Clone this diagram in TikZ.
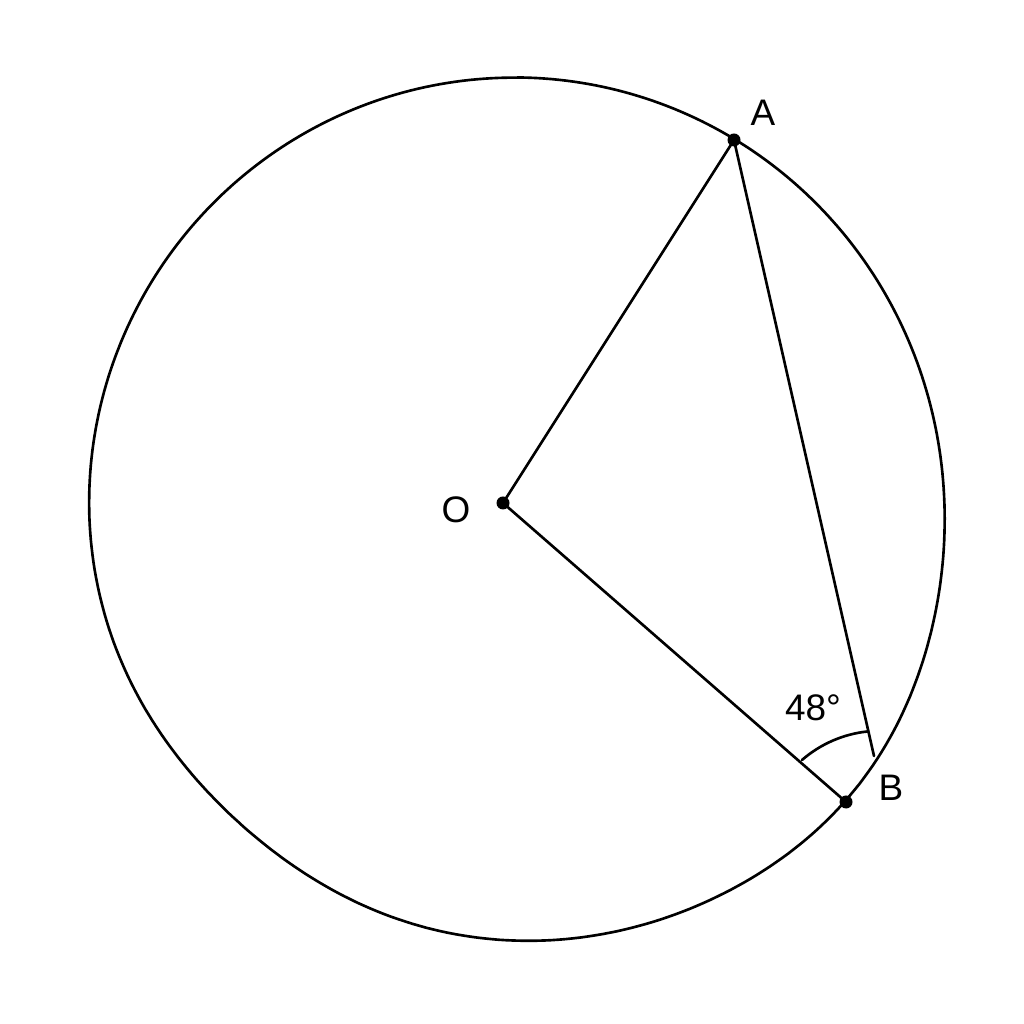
\documentclass[tikz,border=0pt]{standalone}
\usepackage{fontspec}
\setmainfont{Liberation Sans}
\begin{document}
\begin{tikzpicture}[x=0.01cm,y=0.01cm,
  thinline/.style={line width=0.75pt,line cap=round,line join=round},
  dotpt/.style={circle,fill=black,inner sep=0pt,minimum size=0.13cm},
  lbl/.style={font=\fontsize{10.5}{12}\selectfont,inner sep=0pt},
  declare function={
    ua(\t)=1+((\t-228)/45)^2;
    ub(\t)=1+((\t-322)/38)^2;
    rf(\t)=1-0.035/ua(\t)/ua(\t)+0.026/ub(\t)/ub(\t);
  }]
\useasboundingbox (0,0) rectangle (1024,1024);
\fill[white] (0,0) rectangle (1024,1024);
% circle (slightly irregular, as drawn)
\draw[thinline] plot[domain=90:449, samples=360, variable=\t]
  ({514+428*rf(\t)*cos(\t)}, {513.5+433*rf(\t)*sin(\t)}) -- cycle;
% points
\coordinate (Ac) at (734,884);
\coordinate (Bc) at (846,222);
\coordinate (Oc) at (503,521);
\coordinate (Cc) at (874,268);
\coordinate (Arcs) at (802,264);
\draw[thinline] (Oc) -- (Ac);
\draw[thinline] (Oc) -- (Bc);
\draw[thinline] (Ac) -- (Cc);
\draw[thinline] (Arcs) arc[start angle=131, end angle=96, radius=1.19cm];
\node[dotpt] (A) at (Ac) {};
\node[dotpt] (B) at (Bc) {};
\node[dotpt] (O) at (Oc) {};
\node[lbl] (la) at (763,911) {A};
\node[lbl] (lb) at (891,236) {B};
\node[lbl] (lo) at (456,514) {O};
\node[lbl] (lang) at (813,316) {48°};
\end{tikzpicture}
\end{document}
